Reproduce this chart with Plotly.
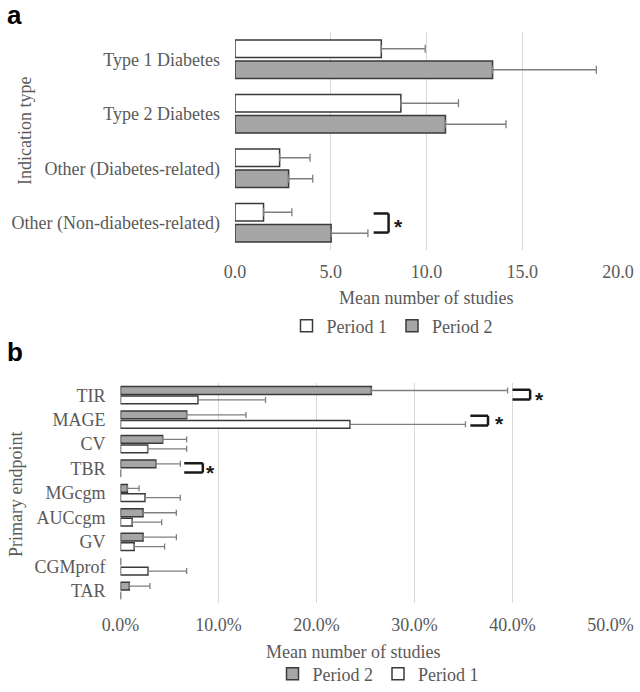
import plotly.graph_objects as go

# ---------------- data ----------------
indications = ["Type 1 Diabetes", "Type 2 Diabetes",
               "Other (Diabetes-related)", "Other (Non-diabetes-related)"]
a_period1 = [7.64, 8.66, 2.33, 1.49]
a_period1_err = [2.29, 3.01, 1.59, 1.48]
a_period2 = [13.45, 10.99, 2.80, 5.02]
a_period2_err = [5.42, 3.16, 1.26, 1.92]
a_ticks = [0, 5, 10, 15, 20]

endpoints = ["TIR", "MAGE", "CV", "TBR", "MGcgm", "AUCcgm", "GV", "CGMprof", "TAR"]
b_period2 = [0.256, 0.0675, 0.043, 0.036, 0.007, 0.023, 0.023, 0.0, 0.009]
b_period2_err = [0.139, 0.0605, 0.0245, 0.025, 0.012, 0.034, 0.034, None, 0.021]
b_period1 = [0.079, 0.234, 0.0277, 0.0, 0.025, 0.012, 0.014, 0.028, 0.0]
b_period1_err = [0.069, 0.118, 0.0398, None, 0.036, 0.030, 0.031, 0.0395, None]
b_ticks = [0, 0.1, 0.2, 0.3, 0.4, 0.5]

# ---------------- styles ----------------
W, H = 640, 692
SERIF = "Liberation Serif, Times New Roman, serif"
GREY_TXT = "#595959"
GRID = "#d9d9d9"
FILL_P2 = "#a6a6a6"
FILL_P1 = "#ffffff"
EDGE = "#3a3a3a"
ERR = "#7f7f7f"


def px_x(p):
    return p / W


def px_y(p):
    return 1 - p / H


def minus_of(err):
    return [None if e is None else 0 for e in err]


def bar(name, x, err, y, fill, xa, ya, legend, capw):
    return go.Bar(
        name=name, x=x, y=y, orientation="h",
        xaxis=xa, yaxis=ya, legend=legend,
        marker=dict(color=fill, line=dict(color=EDGE, width=1.5)),
        error_x=dict(type="data", symmetric=False, array=err,
                     arrayminus=minus_of(err), color=ERR,
                     thickness=1.3, width=capw),
        hoverinfo="x+y",
    )


fig = go.Figure()
# panel a : Period 1 above Period 2
fig.add_trace(bar("Period 1", a_period1, a_period1_err, indications, FILL_P1, "x", "y", "legend", 4))
fig.add_trace(bar("Period 2", a_period2, a_period2_err, indications, FILL_P2, "x", "y", "legend", 4))
# panel b : Period 2 above Period 1
fig.add_trace(bar("Period 2", b_period2, b_period2_err, endpoints, FILL_P2, "x2", "y2", "legend2", 3))
fig.add_trace(bar("Period 1", b_period1, b_period1_err, endpoints, FILL_P1, "x2", "y2", "legend2", 3))

tickfont = dict(family=SERIF, size=18, color=GREY_TXT)

fig.update_layout(
    width=W, height=H,
    margin=dict(l=0, r=0, t=0, b=0, autoexpand=False),
    paper_bgcolor="white", plot_bgcolor="white",
    barmode="group", bargap=0.23, bargroupgap=0.17,
    font=dict(family=SERIF, size=18, color=GREY_TXT),
    xaxis=dict(domain=[px_x(235), px_x(618)], range=[0, 20], anchor="y",
               tickvals=a_ticks, tickformat=".1f", showgrid=True, gridcolor=GRID,
               gridwidth=1, zeroline=False, showline=False, ticks="",
               tickfont=tickfont, ticklabelstandoff=9, automargin=False),
    yaxis=dict(domain=[px_y(250), px_y(32)], anchor="x", type="category",
               categoryorder="array", categoryarray=indications,
               range=[3.5, -0.5], showgrid=False, zeroline=False, showline=False,
               ticks="", tickfont=tickfont, ticklabelstandoff=14, automargin=False),
    xaxis2=dict(domain=[px_x(120.5), px_x(610.5)], range=[0, 0.5], anchor="y2",
                tickvals=b_ticks, tickformat=".1%", showgrid=True, gridcolor=GRID,
                gridwidth=1, zeroline=False, showline=False, ticks="",
                tickfont=tickfont, ticklabelstandoff=9, automargin=False),
    yaxis2=dict(domain=[px_y(603), px_y(383)], anchor="x2", type="category",
                categoryorder="array", categoryarray=endpoints,
                range=[8.5, -0.5], showgrid=False, zeroline=False, showline=False,
                ticks="", tickfont=tickfont, ticklabelstandoff=14, automargin=False),
    legend=dict(orientation="h", x=px_x(392), y=px_y(326), xanchor="center",
                yanchor="middle", font=dict(family=SERIF, size=18, color=GREY_TXT),
                itemwidth=30, bgcolor="rgba(0,0,0,0)", traceorder="normal"),
    legend2=dict(orientation="h", x=px_x(378), y=px_y(674), xanchor="center",
                 yanchor="middle", font=dict(family=SERIF, size=18, color=GREY_TXT),
                 itemwidth=30, bgcolor="rgba(0,0,0,0)", traceorder="normal"),
    showlegend=True,
)

ann = []
# panel letters
ann.append(dict(text="<b>a</b>", x=px_x(6), y=px_y(15), xref="paper", yref="paper",
                xanchor="left", yanchor="middle", showarrow=False, borderpad=0,
                font=dict(family="Liberation Sans, Arial", size=26, color="black")))
ann.append(dict(text="<b>b</b>", x=px_x(6), y=px_y(352), xref="paper", yref="paper",
                xanchor="left", yanchor="middle", showarrow=False, borderpad=0,
                font=dict(family="Liberation Sans, Arial", size=26, color="black")))
# axis titles
ann.append(dict(text="Indication type", x=px_x(25), y=px_y(131), xref="paper", yref="paper",
                textangle=-90, showarrow=False, xanchor="center", yanchor="middle",
                font=dict(family=SERIF, size=18, color=GREY_TXT)))
ann.append(dict(text="Primary endpoint", x=px_x(16), y=px_y(495), xref="paper", yref="paper",
                textangle=-90, showarrow=False, xanchor="center", yanchor="middle",
                font=dict(family=SERIF, size=18, color=GREY_TXT)))
ann.append(dict(text="Mean number of studies", x=px_x(426), y=px_y(298), xref="paper", yref="paper",
                showarrow=False, xanchor="center", yanchor="middle",
                font=dict(family=SERIF, size=18, color=GREY_TXT)))
ann.append(dict(text="Mean number of studies", x=px_x(353), y=px_y(652), xref="paper", yref="paper",
                showarrow=False, xanchor="center", yanchor="middle",
                font=dict(family=SERIF, size=18, color=GREY_TXT)))

# significance brackets
shapes = []


def bracket(xa, ya, cat_idx, x0, x1, xstar, dy0=-0.19, dy1=0.19):
    lw = 2.5
    col = "#1a1a1a"
    ytop, ybot = cat_idx + dy0, cat_idx + dy1
    for sx0, sy0, sx1, sy1 in [(x0, ytop, x1, ytop), (x1, ytop, x1, ybot), (x0, ybot, x1, ybot)]:
        shapes.append(dict(type="line", xref=xa, yref=ya, x0=sx0, y0=sy0, x1=sx1, y1=sy1,
                           line=dict(color=col, width=lw)))
    ann.append(dict(text="<b>*</b>", x=xstar, y=cat_idx, xref=xa, yref=ya, showarrow=False,
                    xanchor="center", yanchor="middle", yshift=-4,
                    font=dict(family="Liberation Sans, Arial", size=21, color=col)))


bracket("x", "y", 3, 7.24, 8.02, 8.55, -0.17, 0.18)
bracket("x2", "y2", 0, 0.400, 0.418, 0.428, -0.22, 0.18)
bracket("x2", "y2", 1, 0.357, 0.375, 0.387, -0.16, 0.24)
bracket("x2", "y2", 3, 0.065, 0.084, 0.092, -0.22, 0.16)

fig.update_layout(annotations=ann, shapes=shapes)

# remove the page's default body margin so the figure fills the window exactly
fig.write_html("out.html",
               config={"displayModeBar": False},
               post_script="document.body.style.margin='0px';"
                           "document.body.style.overflow='hidden';")
